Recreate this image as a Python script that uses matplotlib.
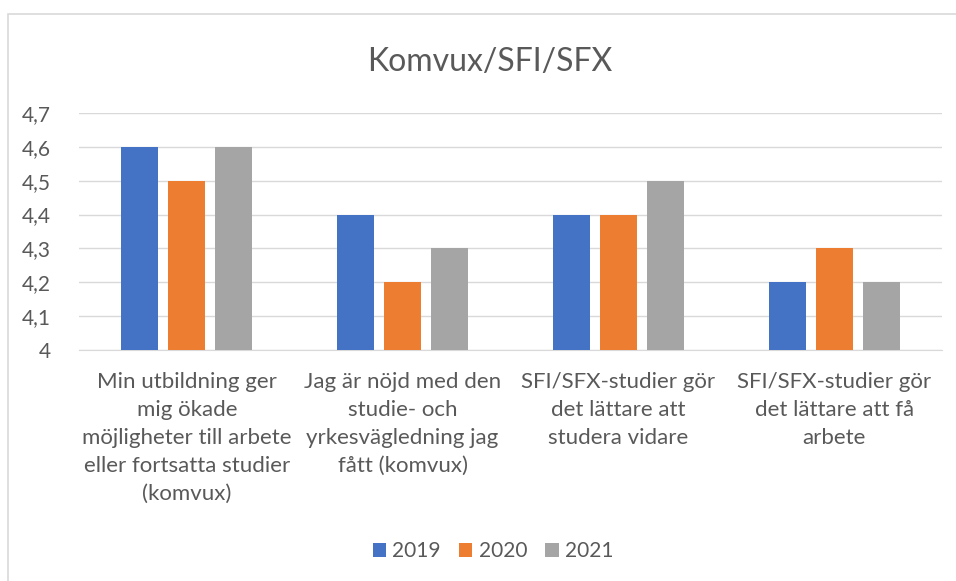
import matplotlib.pyplot as plt
import numpy as np
from matplotlib.patches import Rectangle

# data
categories = [
    "Min utbildning ger\nmig ökade\nmöjligheter till arbete\neller fortsatta studier\n(komvux)",
    "Jag är nöjd med den\nstudie- och\nyrkesvägledning jag\nfått (komvux)",
    "SFI/SFX-studier gör\ndet lättare att\nstudera vidare",
    "SFI/SFX-studier gör\ndet lättare att få\narbete",
]
years = ["2019", "2020", "2021"]
v2019 = [4.6, 4.4, 4.4, 4.2]
v2020 = [4.5, 4.2, 4.4, 4.3]
v2021 = [4.6, 4.3, 4.5, 4.2]
yticks = [4.0, 4.1, 4.2, 4.3, 4.4, 4.5, 4.6, 4.7]
ytick_labels = ["4", "4,1", "4,2", "4,3", "4,4", "4,5", "4,6", "4,7"]

colors = ["#4472C4", "#ED7D31", "#A5A5A5"]
txt = "#595959"
plt.rcParams['font.family'] = ['Lato', 'DejaVu Sans']

fig = plt.figure(figsize=(9.56, 5.81), dpi=100)
# ram runt diagrammet (bara vänster/topp syns)
fig.patches.append(Rectangle((8 / 956, -0.1), 2, (581 - 14) / 581 + 0.1,
                             transform=fig.transFigure, fill=False,
                             edgecolor="#d9d9d9", linewidth=1.2))

ax = fig.add_axes([79 / 956, 1 - 350 / 581, 863 / 956, 237 / 581])
x = np.arange(len(categories))
w = 0.171
step = 0.218
for i, (vals, lab) in enumerate(zip([v2019, v2020, v2021], years)):
    ax.bar(x + (i - 1) * step, vals, width=w, color=colors[i], label=lab, zorder=3)

ax.set_xlim(-0.5, len(categories) - 0.5)
ax.set_ylim(4.0, 4.7)
ax.set_yticks(yticks)
ax.set_yticklabels(ytick_labels, fontsize=15, color=txt)
ax.set_xticks(x)
ax.set_xticklabels(categories, fontsize=16, color=txt, linespacing=1.5, va="top")
ax.tick_params(axis="both", length=0)
ax.tick_params(axis="y", pad=20)
ax.tick_params(axis="x", pad=16)
ax.grid(axis="y", color="#d9d9d9", linewidth=1, zorder=0)
for s in ["top", "right", "left"]:
    ax.spines[s].set_visible(False)
ax.spines["bottom"].set_color("#d9d9d9")

fig.text(490 / 956, 1 - 62 / 581, "Komvux/SFI/SFX", fontsize=23, color=txt,
         ha="center", va="center")

fig.legend(loc="center", bbox_to_anchor=(493 / 956, 1 - 551 / 581), ncol=3,
           frameon=False, fontsize=15, labelcolor=txt, handlelength=0.65,
           handleheight=0.65, handletextpad=0.3, columnspacing=0.86)

fig.savefig("out.png", dpi=100)
